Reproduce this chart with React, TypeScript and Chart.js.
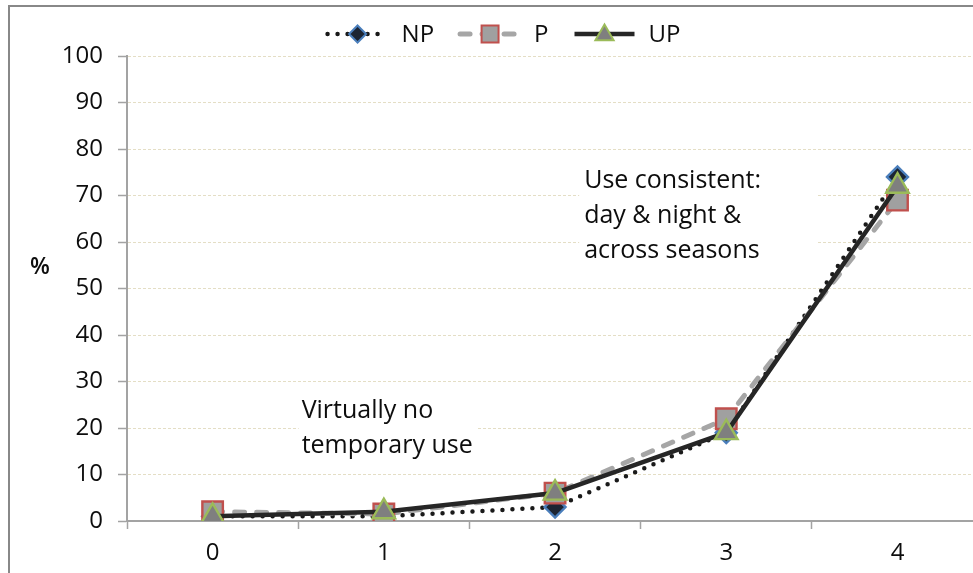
import React, { useEffect, useRef } from "react";
import { Chart, registerables } from "chart.js";

Chart.register(...registerables);

// ---- data ----
const categories = ["0", "1", "2", "3", "4"];
const npValues = [1, 1, 3, 19, 74];
const pValues = [2, 1.5, 6, 22, 69];
const upValues = [1, 2, 6, 19, 72];
const seriesNames = ["NP", "P", "UP"];
const yMin = 0;
const yMax = 100;
const yStep = 10;
const yAxisTitle = "%";
const noteLow = ["Virtually no", "temporary use"];
const noteHigh = ["Use consistent:", "day & night &", "across seasons"];

// ---- layout / style ----
const FONT = "'Open Sans', sans-serif";
const W = 1000;
const H = 573;
const PLOT_LEFT = 127;
const PLOT_TOP = 56;
const PLOT_RIGHT = 984;
const PLOT_BOTTOM = 521;
const GRID_COLOR = "rgba(205,195,150,0.55)";
const AXIS_COLOR = "#a3a3a3";

const seriesStyles = [
  { line: "#1a1a1a", width: 4.5, dash: [0, 10], cap: "round", marker: "diamond", fill: "#1c2533", stroke: "#4a7ebb" },
  { line: "#a6a6a6", width: 5, dash: [10, 12], cap: "round", marker: "square", fill: "#a0a0a0", stroke: "#c0504d" },
  { line: "#262626", width: 4.5, dash: [], cap: "butt", marker: "triangle", fill: "#7f7f7f", stroke: "#9bbb59" },
];

// annotation anchors in data units (category index, value)
const notePlacement = [
  { lines: noteLow, x: 0.52, y: 22.2, padL: 3, padR: 4 },
  { lines: noteHigh, x: 2.17, y: 71.6, padL: 5, padR: 55 },
];

function drawMarker(ctx: CanvasRenderingContext2D, kind: string, x: number, y: number, r: number, fill: string, stroke: string, bw: number) {
  ctx.save();
  ctx.beginPath();
  if (kind === "square") {
    const s = r * Math.SQRT1_2;
    ctx.rect(x - s, y - s, 2 * s, 2 * s);
  } else if (kind === "diamond") {
    ctx.moveTo(x, y - r);
    ctx.lineTo(x + r, y);
    ctx.lineTo(x, y + r);
    ctx.lineTo(x - r, y);
    ctx.closePath();
  } else {
    const w = r * Math.sin(Math.PI / 3);
    ctx.moveTo(x, y - r);
    ctx.lineTo(x + w, y + r / 2);
    ctx.lineTo(x - w, y + r / 2);
    ctx.closePath();
  }
  ctx.fillStyle = fill;
  ctx.fill();
  ctx.lineWidth = bw;
  ctx.strokeStyle = stroke;
  ctx.stroke();
  ctx.restore();
}

const overlayPlugin = {
  id: "overlay",
  beforeDatasetsDraw(chart: any) {
    const ctx: CanvasRenderingContext2D = chart.ctx;
    const xs = chart.scales.x;
    const ys = chart.scales.y;
    ctx.save();
    ctx.font = `25px ${FONT}`;
    ctx.textBaseline = "alphabetic";
    ctx.textAlign = "left";
    const lh = 35;
    notePlacement.forEach((n) => {
      const x0 = xs.getPixelForValue(n.x);
      const y0 = ys.getPixelForValue(n.y);
      const maxW = Math.max(...n.lines.map((l) => ctx.measureText(l).width));
      ctx.fillStyle = "#ffffff";
      ctx.fillRect(x0 - n.padL, y0 - 24, maxW + n.padL + n.padR, lh * (n.lines.length - 1) + 34);
      ctx.fillStyle = "#0d0d0d";
      n.lines.forEach((l, i) => ctx.fillText(l, x0, y0 + i * lh));
    });
    ctx.restore();
  },
  afterDraw(chart: any) {
    const ctx: CanvasRenderingContext2D = chart.ctx;
    const ys = chart.scales.y;
    ctx.save();
    // y axis title
    ctx.font = `600 23px ${FONT}`;
    ctx.fillStyle = "#0d0d0d";
    ctx.textAlign = "center";
    ctx.textBaseline = "middle";
    ctx.fillText(yAxisTitle, 40, ys.getPixelForValue(54.6));

    // legend
    ctx.font = `24px ${FONT}`;
    const sampleW = 64;
    const textGap = 12;
    const itemGap = 24;
    const widths = seriesNames.map((s) => sampleW + textGap + ctx.measureText(s).width);
    const total = widths.reduce((a, b) => a + b, 0) + itemGap * (seriesNames.length - 1);
    let x = chart.width / 2 - total / 2 + 3;
    const y = 34;
    seriesNames.forEach((name, i) => {
      const st = seriesStyles[i];
      ctx.save();
      ctx.beginPath();
      ctx.strokeStyle = st.line;
      ctx.lineWidth = st.width;
      ctx.lineCap = st.cap as CanvasLineCap;
      ctx.setLineDash(st.dash);
      ctx.moveTo(x + 2, y);
      ctx.lineTo(x + sampleW - 2, y);
      ctx.stroke();
      ctx.restore();
      const mr = st.marker === "square" ? 12 : st.marker === "diamond" ? 8.5 : 10.5;
      drawMarker(ctx, st.marker, x + sampleW / 2, y + (st.marker === "triangle" ? 1 : 0), mr, st.fill, st.stroke, 2);
      ctx.fillStyle = "#0d0d0d";
      ctx.textAlign = "left";
      ctx.textBaseline = "middle";
      ctx.fillText(name, x + sampleW + textGap, y + 1);
      x += widths[i] + itemGap;
    });
    ctx.restore();
  },
};

export default function App() {
  const canvasRef = useRef<HTMLCanvasElement | null>(null);

  useEffect(() => {
    const canvas = canvasRef.current;
    if (!canvas) return;
    Chart.defaults.font.family = FONT;
    const valueSets = [npValues, pValues, upValues];
    const pointStyles = ["rectRot", "rect", "triangle"];
    const pointRadii = [10.5, 14.5, 13];
    const orders = [3, 2, 1];
    const chart = new Chart(canvas, {
      type: "line",
      data: {
        labels: categories,
        datasets: seriesNames.map((name, i) => ({
          label: name,
          data: valueSets[i],
          borderColor: seriesStyles[i].line,
          borderWidth: seriesStyles[i].width,
          borderDash: seriesStyles[i].dash,
          borderCapStyle: seriesStyles[i].cap as CanvasLineCap,
          borderJoinStyle: "round" as CanvasLineJoin,
          tension: 0,
          fill: false,
          pointStyle: pointStyles[i] as any,
          pointRadius: pointRadii[i],
          pointBackgroundColor: seriesStyles[i].fill,
          pointBorderColor: seriesStyles[i].stroke,
          pointBorderWidth: 2.4,
          order: orders[i],
        })),
      },
      options: {
        responsive: false,
        animation: false,
        devicePixelRatio: 1,
        layout: { padding: { top: PLOT_TOP, right: W - PLOT_RIGHT, left: 0, bottom: 0 } },
        plugins: { legend: { display: false }, tooltip: { enabled: false } },
        scales: {
          x: {
            type: "category",
            offset: true,
            afterFit: (s: any) => {
              s.height = H - PLOT_BOTTOM;
            },
            grid: {
              offset: true,
              drawOnChartArea: false,
              drawTicks: true,
              tickLength: 8,
              tickColor: AXIS_COLOR,
              tickWidth: 1.5,
            },
            border: { display: true, color: AXIS_COLOR, width: 2 },
            ticks: { color: "#0d0d0d", font: { size: 24, family: FONT }, padding: 10, maxRotation: 0 },
          },
          y: {
            min: yMin,
            max: yMax,
            afterFit: (s: any) => {
              s.width = PLOT_LEFT;
            },
            ticks: { stepSize: yStep, color: "#0d0d0d", font: { size: 24, family: FONT }, padding: 15 },
            grid: {
              color: GRID_COLOR,
              lineWidth: 1,
              drawTicks: true,
              tickLength: 9,
              tickColor: AXIS_COLOR,
              tickWidth: 1.5,
            },
            border: { display: true, color: AXIS_COLOR, width: 2, dash: [3, 2] },
          },
        },
      },
      plugins: [overlayPlugin],
    });
    return () => chart.destroy();
  }, []);

  return (
    <div style={{ position: "fixed", left: 0, top: 0, width: 973, height: 573, overflow: "hidden", background: "#fff" }}>
      <div
        style={{
          position: "absolute",
          left: 8,
          top: 5,
          width: 1100,
          height: 700,
          borderLeft: "2px solid #888888",
          borderTop: "2px solid #888888",
        }}
      />
      <canvas ref={canvasRef} width={W} height={H} style={{ position: "absolute", left: 0, top: 0, width: W, height: H }} />
    </div>
  );
}
